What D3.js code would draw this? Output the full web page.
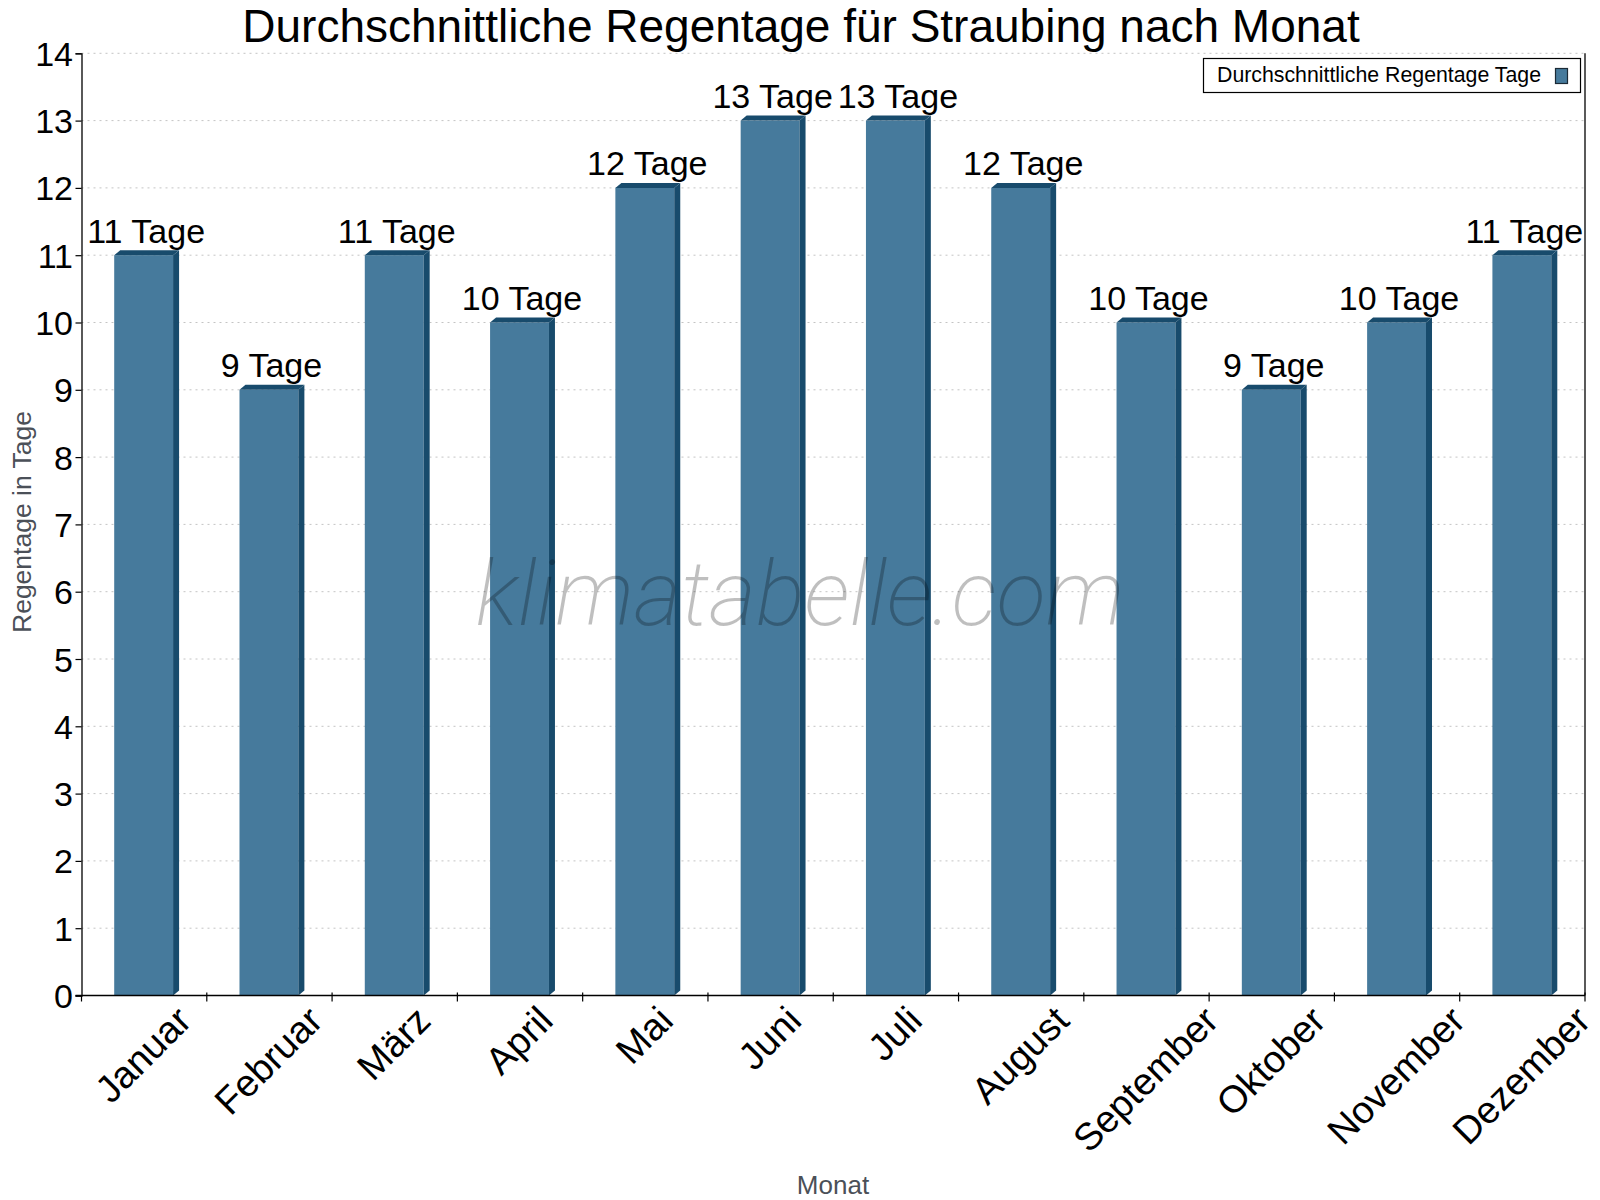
<!DOCTYPE html>
<html>
<head>
<meta charset="utf-8">
<script src="https://cdn.jsdelivr.net/npm/d3@7"></script>
<style>
  html, body { margin: 0; padding: 0; background: #fff; }
  svg { display: block; font-family: "Liberation Sans", Arial, Helvetica, sans-serif; }
</style>
</head>
<body>
<svg id="chart" width="1600" height="1200"></svg>
<script>
const months = ["Januar", "Februar", "März", "April", "Mai", "Juni", "Juli", "August", "September", "Oktober", "November", "Dezember"];
const rainDays = [11, 9, 11, 10, 12, 13, 13, 12, 10, 9, 10, 11];
const yTicks = [0, 1, 2, 3, 4, 5, 6, 7, 8, 9, 10, 11, 12, 13, 14];
const chartTitle = "Durchschnittliche Regentage für Straubing nach Monat";
const seriesName = "Durchschnittliche Regentage Tage";
const unitLabel = "Tage";
const xTitle = "Monat";
const yTitle = "Regentage in Tage";
const watermark = "klimatabelle.com";

(function draw() {
const pLeft = 81.5, pRight = 1585, pTop = 53.3, pBottom = 995.5;
const frontColor = "#467a9c", darkColor = "#184b6c";

const svg = d3.select("#chart");

const x = d3.scaleBand().domain(months).range([pLeft, pRight]).paddingInner(0).paddingOuter(0);
const y = d3.scaleLinear().domain([0, 14]).range([pBottom, pTop]);

// grid lines
svg.append("g").selectAll("line").data(yTicks.filter(d => d > 0)).join("line")
  .attr("x1", pLeft).attr("x2", pRight)
  .attr("y1", d => y(d)).attr("y2", d => y(d))
  .attr("stroke", "#c4c4c4").attr("stroke-width", 1)
  .attr("stroke-dasharray", "2,4");

// bars (pseudo 3D)
const bw = x.bandwidth() * 0.47;
const dx = 6, dy = 5;
const rows = months.map((m, i) => ({m, v: rainDays[i]}));
const bars = svg.append("g").selectAll("g").data(rows).join("g");
bars.each(function(d) {
  const g = d3.select(this);
  const x0 = x(d.m) + (x.bandwidth() - bw) / 2 - 0.5;
  const x1 = x0 + bw;
  const yt = y(d.v), yb = y(0);
  g.append("rect").attr("x", x0).attr("y", yt).attr("width", bw).attr("height", yb - yt).attr("fill", frontColor);
  g.append("path").attr("d", `M${x1},${yt} L${x1 + dx},${yt - dy} L${x1 + dx},${yb - dy} L${x1},${yb} Z`).attr("fill", darkColor);
  g.append("path").attr("d", `M${x0},${yt} L${x0 + dx},${yt - dy} L${x1 + dx},${yt - dy} L${x1},${yt} Z`).attr("fill", darkColor);
});

// watermark
svg.append("text")
  .attr("x", 800).attr("y", 625)
  .attr("text-anchor", "middle")
  .style("font-family", "Roboto, 'Liberation Sans', sans-serif")
  .style("font-weight", 200)
  .style("font-style", "italic")
  .style("font-size", "91px")
  .attr("fill", "rgba(0,0,0,0.25)")
  .text(watermark);

// y axis
const yAxis = d3.axisLeft(y).tickValues(yTicks).tickSize(6).tickPadding(8);
const yg = svg.append("g").attr("transform", `translate(${pLeft},0)`).call(yAxis);
yg.select(".domain").attr("stroke", "#000").attr("stroke-width", 1.3);
yg.selectAll(".tick line").attr("stroke", "#000").attr("stroke-width", 1.2);
yg.selectAll(".tick text")
  .attr("x", -8.5).attr("dy", null).attr("y", 12)
  .style("font-size", "34px").style("font-family", "'Liberation Sans', Arial, sans-serif")
  .attr("fill", "#000");

// right border line
svg.append("line").attr("x1", pRight).attr("x2", pRight).attr("y1", pTop).attr("y2", pBottom)
  .attr("stroke", "#000").attr("stroke-width", 1.3);

// x axis line and boundary ticks
svg.append("line").attr("x1", pLeft - 6).attr("x2", pRight).attr("y1", pBottom).attr("y2", pBottom)
  .attr("stroke", "#000").attr("stroke-width", 1.3);
const bounds = months.map(m => x(m)).concat([x(months[months.length - 1]) + x.bandwidth()]);
svg.append("g").selectAll("line").data(bounds).join("line")
  .attr("x1", d => d).attr("x2", d => d)
  .attr("y1", (d, i) => i === 0 ? pBottom : pBottom - 3).attr("y2", pBottom + 6)
  .attr("stroke", "#000").attr("stroke-width", 1.2);

// x labels rotated -45, bbox centred on band
const xfs = 38;
const xl = svg.append("g").selectAll("text").data(months).join("text")
  .style("font-size", xfs + "px")
  .attr("text-anchor", "middle")
  .attr("dominant-baseline", "central")
  .attr("fill", "#000")
  .text(d => d);
xl.each(function(d) {
  const L = this.getComputedTextLength();
  const Hh = 0.72 * xfs;
  const cx = x(d) + x.bandwidth() / 2 - 1;
  const cy = 1004 + (L + Hh) * 0.35355;
  d3.select(this).attr("transform", `translate(${cx},${cy}) rotate(-45)`);
});

// value labels
svg.append("g").selectAll("text").data(rows).join("text")
  .attr("x", d => x(d.m) + x.bandwidth() / 2 + 2)
  .attr("y", d => y(d.v) - 12.5)
  .attr("text-anchor", "middle")
  .style("font-size", "34px")
  .attr("fill", "#000")
  .text(d => `${d.v} ${unitLabel}`);

// title
svg.append("text").attr("x", 801).attr("y", 41.5).attr("text-anchor", "middle")
  .style("font-size", "46px").attr("fill", "#000").text(chartTitle);

// axis titles
svg.append("text").attr("x", 833).attr("y", 1194).attr("text-anchor", "middle")
  .style("font-size", "26px").attr("fill", "#4b5058").text(xTitle);
svg.append("text").attr("transform", `translate(31,522) rotate(-90)`).attr("text-anchor", "middle")
  .style("font-size", "26.5px").attr("fill", "#4b5058").text(yTitle);

// legend
const lg = svg.append("g");
lg.append("rect").attr("x", 1203.5).attr("y", 58.5).attr("width", 377).attr("height", 34)
  .attr("fill", "#fff").attr("stroke", "#000").attr("stroke-width", 1.2);
lg.append("text").attr("x", 1217).attr("y", 82).style("font-size", "21.3px").attr("fill", "#000").text(seriesName);
lg.append("rect").attr("x", 1555.5).attr("y", 68.5).attr("width", 12).attr("height", 15)
  .attr("fill", frontColor).attr("stroke", "#1b2a36").attr("stroke-width", 1.2);
})();
</script>
</body>
</html>
